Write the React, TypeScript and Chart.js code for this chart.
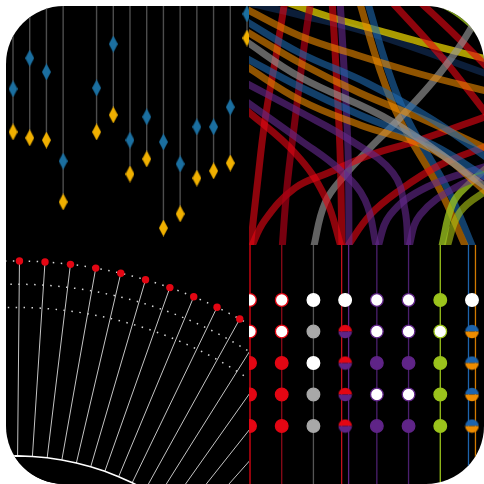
import { useEffect, useRef } from "react";
import { Chart, registerables } from "chart.js";

Chart.register(...registerables);

// ---- top left: paired readings on hanging stems ----
const stemCols = [0, 1, 2, 3, 4, 5, 6, 7, 8, 9, 10, 11, 12, 13, 14];
const blueVals = [65.3, 78.2, 72.4, 35.1, null, 65.7, 84.1, 43.9, 53.6, 43.1, 33.9, 49.4, 49.4, 57.7, 96.7];
const orangeVals = [47.3, 44.8, 43.9, 18.0, null, 47.3, 54.4, 29.7, 36.0, 7.1, 13.0, 28.0, 31.0, 34.3, 86.6];

// ---- top right: arc bands (position along axis, height above axis) ----
const arcTones = [
  "orange", "blue", "orange", "gray", "blue", "orange", "purple", "purple", "red",
  "red", "darkred", "red", "purple", "red", "gray", "red", "purple", "purple",
  "green", "lime", "orange", "blue", "red", "red", "green", "yellow", "navy",
];
const arcPaths: number[][][] = [
  [[-5, 237], [51, 209], [111, 189], [171, 171], [241, 153]],
  [[-5, 225], [51, 192], [118, 162], [184, 125], [241, 85]],
  [[-5, 215], [51, 182], [111, 152], [171, 127], [241, 95]],
  [[-5, 205], [51, 168], [144, 123], [241, 55]],
  [[-5, 188], [51, 158], [111, 130], [184, 100], [241, 65]],
  [[-5, 180], [51, 145], [111, 120], [184, 95], [241, 50]],
  [[-5, 163], [51, 133], [101, 105], [144, 72], [156, 35], [159, -5]],
  [[-5, 145], [51, 105], [91, 75], [116, 45], [128, -5]],
  [[-5, 137], [46, 92], [76, 48], [93, -5]],
  [[1, -5], [8, 58], [16, 125], [28, 195], [36, 245]],
  [[33, -5], [38, 58], [46, 125], [56, 205], [62, 245]],
  [[93, -5], [91, 95], [86, 195], [83, 245]],
  [[100, -5], [99, 95], [94, 195], [91, 245]],
  [[1, -5], [16, 25], [46, 57], [79, 72], [121, 90], [171, 105], [241, 130]],
  [[64, -5], [76, 42], [96, 70], [121, 97], [151, 127], [191, 172], [221, 215], [233, 245]],
  [[96, -5], [121, 30], [151, 55], [191, 80], [241, 100]],
  [[128, -5], [141, 30], [178, 58], [241, 80]],
  [[159, -5], [171, 30], [211, 60], [241, 70]],
  [[192, -5], [204, 42], [221, 62], [241, 80]],
  [[197, -5], [211, 33], [241, 57]],
  [[110, 245], [131, 175], [151, 125], [191, 55], [218, -5]],
  [[118, 245], [139, 175], [159, 125], [199, 55], [225, -5]],
  [[141, 245], [191, 190], [241, 127]],
  [[169, 245], [206, 210], [241, 175]],
  [[186, 245], [211, 230], [241, 203]],
  [[31, 245], [81, 228], [121, 217], [171, 203], [241, 185]],
  [[0, 242], [51, 230], [121, 212], [241, 170]],
];
const toneRgba: Record<string, string> = {
  red: "rgba(227,6,19,0.62)",
  darkred: "rgba(170,0,22,0.7)",
  purple: "rgba(100,40,140,0.62)",
  gray: "rgba(150,150,150,0.65)",
  orange: "rgba(239,138,0,0.6)",
  blue: "rgba(30,105,175,0.6)",
  yellow: "rgba(235,215,0,0.72)",
  navy: "rgba(20,50,95,0.6)",
  green: "rgba(155,195,31,0.78)",
  lime: "rgba(175,200,20,0.6)",
};

// ---- bottom left: radial spokes ----
const spokeCount = 114;
const spokeTops = [20, 20, 20, 20, 20, 20, 20, 20, 20, 20, 20, 20];
const ringLevel = 11.6;
const dottedRings = [18, 19, 20];

// ---- bottom right: state grid ----
const gridCols = [0, 1, 2, 3, 4, 5, 6, 7];
const gridRows = [0, 1, 2, 3, 4];
// o = ring, f = filled, w = white, s = split
const cellStates = [
  ["o", "o", "f", "f", "f"],
  ["o", "o", "f", "f", "f"],
  ["w", "f", "w", "f", "f"],
  ["w", "s", "s", "s", "s"],
  ["o", "o", "f", "o", "f"],
  ["o", "o", "f", "o", "f"],
  ["f", "o", "f", "f", "f"],
  ["w", "s", "s", "s", "s"],
];
const colTone = ["#e30613", "#e30613", "#a8a8a8", "#e30613", "#5f2487", "#5f2487", "#9bc31c", "#1d64ad"];
const colSecond = [null, null, null, "#5f2487", null, null, null, "#ef8c00"];
const colLine = ["#e30613", "#8a0a18", "#555555", "#c4101c", "#4b1f6e", "#4b1f6e", "#9bc31c", "#1d64ad"];
const colLineSecond = [null, null, null, "#5f2487", null, null, null, "#d27a00"];

function diamond(color: string) {
  const c = document.createElement("canvas");
  c.width = 9;
  c.height = 17;
  const g = c.getContext("2d")!;
  g.fillStyle = color;
  g.beginPath();
  g.moveTo(4.5, 0);
  g.lineTo(9, 8.5);
  g.lineTo(4.5, 17);
  g.lineTo(0, 8.5);
  g.closePath();
  g.fill();
  return c;
}

function splitDot(top: string, bottom: string) {
  const c = document.createElement("canvas");
  c.width = 15;
  c.height = 15;
  const g = c.getContext("2d")!;
  g.fillStyle = top;
  g.beginPath();
  g.arc(7.5, 7.5, 6.8, Math.PI, 0);
  g.closePath();
  g.fill();
  g.fillStyle = bottom;
  g.beginPath();
  g.arc(7.5, 7.5, 6.8, 0, Math.PI);
  g.closePath();
  g.fill();
  return c;
}

const base: any = {
  animation: false,
  responsive: false,
  events: [],
  layout: { padding: 0, autoPadding: false },
  plugins: { legend: { display: false }, tooltip: { enabled: false } },
};

export default function App() {
  const tlRef = useRef<HTMLCanvasElement>(null);
  const trRef = useRef<HTMLCanvasElement>(null);
  const blRef = useRef<HTMLCanvasElement>(null);
  const brRef = useRef<HTMLCanvasElement>(null);

  useEffect(() => {
    const charts: Chart[] = [];

    const blueD = diamond("#1b6fa0");
    const orangeD = diamond("#f0b000");
    // stems: from the lower reading up past the top edge, broken by gaps
    const stems: any[] = [];
    stemCols.forEach((c, i) => {
      if (orangeVals[i] == null) return;
      stems.push({ x: c, y: orangeVals[i] }, { x: c, y: 104 }, { x: c, y: null });
    });
    charts.push(
      new Chart(tlRef.current!, {
        type: "scatter",
        data: {
          datasets: [
            {
              data: stemCols.map((c, i) => ({ x: c, y: blueVals[i] })),
              pointStyle: blueD,
              pointRadius: 8,
            } as any,
            {
              data: stemCols.map((c, i) => ({ x: c, y: orangeVals[i] })),
              pointStyle: orangeD,
              pointRadius: 8,
            },
            {
              data: stems,
              showLine: true,
              spanGaps: false,
              borderColor: "#4d4d4d",
              borderWidth: 1.4,
              pointRadius: 0,
            },
          ],
        },
        options: {
          ...base,
          scales: {
            x: { type: "linear", display: false, offset: false, min: -0.419, max: 14.12 },
            y: { type: "linear", display: false, min: 0, max: 100 },
          },
        },
      })
    );

    charts.push(
      new Chart(trRef.current!, {
        type: "scatter",
        data: {
          datasets: arcPaths.map((p, i) => ({
            data: p.map(([x, y]) => ({ x, y })),
            showLine: true,
            borderColor: toneRgba[arcTones[i]],
            borderWidth: 7,
            borderCapStyle: "butt",
            tension: 0.4,
            pointRadius: 0,
            fill: false,
          })) as any,
        },
        options: {
          ...base,
          scales: {
            x: { type: "linear", display: false, min: 0, max: 235 },
            y: { type: "linear", display: false, min: 0, max: 239 },
          },
        },
      })
    );

    const spokeLabels = Array.from({ length: spokeCount }, (_, i) => String(i));
    charts.push(
      new Chart(blRef.current!, {
        type: "radar",
        data: {
          labels: spokeLabels,
          datasets: [
            {
              data: spokeTops,
              borderColor: "transparent",
              borderWidth: 0,
              pointRadius: 3.7,
              pointBackgroundColor: "#e30613",
              pointBorderWidth: 0,
              fill: false,
            },
            {
              data: spokeLabels.map(() => ringLevel),
              borderColor: "#ffffff",
              borderWidth: 1.6,
              backgroundColor: "#000000",
              pointRadius: 0,
              fill: "origin",
            },
          ],
        },
        options: {
          ...base,
          layout: { padding: 10, autoPadding: false },
          scales: {
            r: {
              min: 0,
              max: 20,
              startAngle: 0.55,
              ticks: { display: false },
              pointLabels: { display: false },
              angleLines: { color: "#c4c4c4", lineWidth: 1 },
              grid: { circular: true, color: "#d8d8d8", lineWidth: 1.5 },
              border: { dash: [1.5, 6.5] },
              afterBuildTicks: (s: any) => {
                s.ticks = [0, ...dottedRings].map((v) => ({ value: v }));
              },
            } as any,
          },
        },
      })
    );

    const dotDatasets = gridCols.map((c) => {
      const states = cellStates[c];
      const tone = colTone[c];
      const split = colSecond[c] ? splitDot(tone, colSecond[c]!) : null;
      return {
        data: gridRows.map((r) => ({ x: c, y: r })),
        showLine: false,
        pointRadius: 6.3,
        pointBorderWidth: 1.3,
        pointStyle: states.map((s) => (s === "s" && split ? split : "circle")),
        pointBackgroundColor: states.map((s) => (s === "f" ? tone : "#ffffff")),
        pointBorderColor: states.map((s) => (s === "o" ? tone : s === "f" ? tone : "#ffffff")),
      };
    });
    const lineDatasets: any[] = [];
    gridCols.forEach((c) => {
      const twin = colLineSecond[c];
      const off = twin ? 0.11 : 0;
      lineDatasets.push({
        data: [{ x: c - off, y: -2 }, { x: c - off, y: 6 }],
        showLine: true,
        borderColor: colLine[c],
        borderWidth: 1.3,
        pointRadius: 0,
      });
      if (twin) {
        lineDatasets.push({
          data: [{ x: c + off, y: -2 }, { x: c + off, y: 6 }],
          showLine: true,
          borderColor: twin,
          borderWidth: 1.3,
          pointRadius: 0,
        });
      }
    });
    charts.push(
      new Chart(brRef.current!, {
        type: "scatter",
        data: { datasets: [...dotDatasets, ...lineDatasets] as any },
        options: {
          ...base,
          scales: {
            x: { type: "linear", display: false, min: -0.0315, max: 7.379 },
            y: { type: "linear", display: false, reverse: true, min: -1.746, max: 5.841 },
          },
        },
      })
    );

    return () => charts.forEach((c) => c.destroy());
  }, []);

  return (
    <div style={{ position: "fixed", left: 0, top: 0, width: 484, height: 484, background: "#fff", overflow: "hidden" }}>
      <div
        style={{
          position: "absolute",
          left: 6,
          top: 6,
          width: 478,
          height: 478,
          borderRadius: 58,
          background: "#000",
          overflow: "hidden",
        }}
      >
        <canvas ref={tlRef} width={243} height={239} style={{ position: "absolute", left: 0, top: 0, display: "block" }} />
        <canvas ref={trRef} width={235} height={239} style={{ position: "absolute", left: 243, top: 0, display: "block" }} />
        <div style={{ position: "absolute", left: 0, top: 239, width: 243, height: 239, overflow: "hidden" }}>
          <canvas ref={blRef} width={948} height={948} style={{ position: "absolute", left: -465, top: 6, display: "block" }} />
        </div>
        <canvas ref={brRef} width={235} height={239} style={{ position: "absolute", left: 243, top: 239, display: "block" }} />
      </div>
    </div>
  );
}
